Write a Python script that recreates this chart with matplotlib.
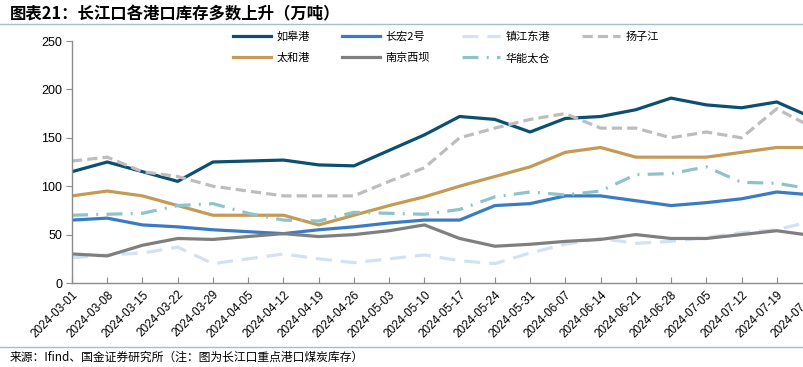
import matplotlib
matplotlib.use("Agg")
import matplotlib.pyplot as plt
import matplotlib.dates as mdates
from matplotlib.lines import Line2D
import pandas as pd

plt.rcParams["font.family"] = ["Noto Sans CJK SC", "DejaVu Sans"]

# weekly inventory, 万吨
dates = pd.date_range("2024-03-01", periods=22, freq="7D")
rugao = [115, 125, 115, 105, 125, 126, 127, 122, 121, 137, 153, 172, 169, 156, 170, 172, 179, 191, 184, 181, 187, 171]
changhong = [65, 67, 60, 58, 55, 53, 51, 55, 58, 62, 65, 65, 80, 82, 90, 90, 85, 80, 83, 87, 94, 91]
zhenjiang = [26, 29, 31, 37, 20, 25, 30, 25, 21, 25, 29, 23, 20, 31, 40, 46, 41, 43, 47, 52, 55, 64]
yangzijiang = [126, 130, 115, 110, 100, 95, 90, 90, 90, 105, 119, 150, 160, 169, 175, 160, 160, 150, 156, 150, 180, 161]
taihe = [90, 95, 90, 80, 70, 70, 70, 60, 70, 80, 89, 100, 110, 120, 135, 140, 130, 130, 130, 135, 140, 140]
nanjing = [30, 28, 39, 46, 45, 48, 51, 48, 50, 54, 60, 46, 38, 40, 43, 45, 50, 46, 46, 50, 54, 49]
huaneng = [70, 71, 72, 80, 82, 72, 65, 64, 73, 72, 71, 76, 89, 94, 91, 95, 112, 113, 120, 104, 103, 97]

SERIES = [  # (name, values, colour, linestyle)
    ("如皋港", rugao, "#0B4F71", "-"),
    ("长宏2号", changhong, "#3A7BC4", "-"),
    ("镇江东港", zhenjiang, "#D3E2F3", (0, (5, 2.8))),
    ("扬子江", yangzijiang, "#BDBDBD", (0, (3.2, 1.6))),
    ("太和港", taihe, "#C49A55", "-"),
    ("南京西坝", nanjing, "#7F7F7F", "-"),
    ("华能太仓", huaneng, "#8EC3CB", (0, (5, 2.6, 0.6, 2.6))),
]

W, H = 804, 367
fig = plt.figure(figsize=(W / 100, H / 100), dpi=100)
# right edge of the axes sits past the figure: the last week is cut off like the source
ax = fig.add_axes([72 / W, (H - 283) / H, (812 - 72) / W, (283 - 41) / H])

lines = {}
for name, vals, col, ls in SERIES:
    lines[name], = ax.plot(dates, vals, color=col, ls=ls, lw=2.3, label=name)

ax.set_ylim(0, 250)
ax.set_yticks(range(0, 251, 50))
ax.set_xlim(dates[0], dates[-1])
ax.set_xticks(dates)
ax.xaxis.set_major_formatter(mdates.DateFormatter("%Y-%m-%d"))
for lab in ax.get_xticklabels():
    lab.set_rotation(45)
    lab.set_ha("right")
    lab.set_rotation_mode("anchor")
    lab.set_fontfamily(["Liberation Sans", "DejaVu Sans"])
    lab.set_fontsize(8.5)
for lab in ax.get_yticklabels():
    lab.set_fontfamily(["Liberation Sans", "DejaVu Sans"])
    lab.set_fontsize(9)

ax.spines[["top", "right"]].set_visible(False)
for s in ("left", "bottom"):
    ax.spines[s].set_color("#8C8C8C")
    ax.spines[s].set_linewidth(1.0)
ax.tick_params(axis="x", direction="in", length=4, color="#8C8C8C", pad=4)
ax.tick_params(axis="y", direction="out", length=4, color="#8C8C8C", pad=3)

# legend: column-major fill, so reorder to get the two rows of the source
order = ["如皋港", "太和港", "长宏2号", "南京西坝", "镇江东港", "华能太仓", "扬子江"]
fig.legend([lines[n] for n in order], order, ncol=4, loc="upper left",
           bbox_to_anchor=(233 / W, 1 - 31 / H), frameon=False, fontsize=8,
           handlelength=3.4, handletextpad=0.5, columnspacing=2.9, labelspacing=1.0,
           borderaxespad=0, borderpad=0)

fig.text(10 / W, 1 - 14 / H, "图表21：长江口各港口库存多数上升（万吨）", fontsize=11.8,
         weight="bold", style="italic", ha="left", va="center")
fig.add_artist(Line2D([0, 1], [1 - 24 / H, 1 - 24 / H], color="#A9BCCB", lw=1.0))
fig.add_artist(Line2D([0, 1], [1 - 347 / H, 1 - 347 / H], color="#A9BCCB", lw=1.0))
fig.text(10 / W, 1 - 357 / H, "来源：Ifind、国金证券研究所（注：图为长江口重点港口煤炭库存）",
         fontsize=8.5, ha="left", va="center")

fig.savefig("out.png", dpi=100)
